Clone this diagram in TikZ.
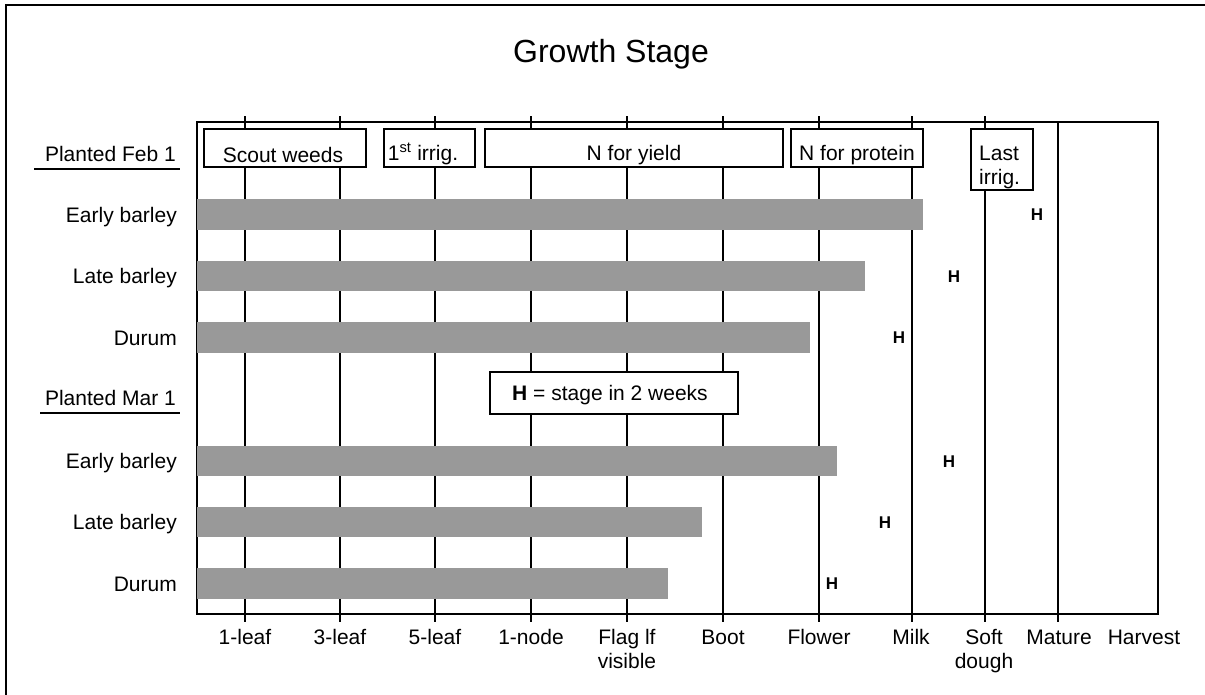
\documentclass[tikz,border=0pt]{standalone}
\usepackage{fontspec}
\setmainfont{Liberation Sans}
\definecolor{barg}{RGB}{153,153,153}
\begin{document}
\begin{tikzpicture}[x=1pt,y=-1pt,
  lbl/.style={font=\fontsize{21}{24}\selectfont, inner sep=0pt},
  rowlbl/.style={lbl, anchor=east, text height=15, text depth=0},
  xlbl/.style={lbl, anchor=base},
  boxtxt/.style={lbl, anchor=base},
  abox/.style={draw, fill=white, line width=1.6pt, inner sep=0pt},
  bar/.style={fill=barg, draw=none},
  hmark/.style={font=\fontsize{17}{20}\selectfont\bfseries, inner sep=0pt},
  gridline/.style={line width=1.6pt},
  frameline/.style={line width=2.2pt},
  underl/.style={line width=1.5pt}]
\useasboundingbox (0,0) rectangle (1205,694);
% outer frame (only top and left visible)
\draw[frameline] (6,700) -- (6,5) -- (1210,5);
% title
\node[font=\fontsize{32}{36}\selectfont, inner sep=0pt, anchor=base] (title) at (611,62) {Growth Stage};
% vertical grid lines
\foreach \x in {245,340,435,531,627,723,819,912,985}
  \draw[gridline] (\x,116) -- (\x,622);
\draw[gridline] (1058,122) -- (1058,622);
% plot frame
\draw[frameline] (197,122) rectangle (1158,614);
% activity boxes
\node[abox, minimum width=162, minimum height=38] (scout) at (285,148) {};
\node[boxtxt] (scoutt) at (283,162) {Scout weeds};
\node[abox, minimum width=91, minimum height=38] (irr1) at (429.5,148) {};
\node[boxtxt] (irr1t) at (423,160) {1\textsuperscript{st} irrig.};
\node[abox, minimum width=298, minimum height=38] (nyield) at (634,148) {};
\node[boxtxt] (nyieldt) at (634,160) {N for yield};
\node[abox, minimum width=132, minimum height=38] (nprot) at (857,148) {};
\node[boxtxt] (nprott) at (857,160) {N for protein};
\node[abox, minimum width=62, minimum height=61] (lastirr) at (1002,159.5) {};
\node[boxtxt, anchor=base west] (last1) at (979,160) {Last};
\node[boxtxt, anchor=base west] (last2) at (979,184) {irrig.};
% legend
\node[abox, minimum width=248, minimum height=42] (legend) at (614,393) {};
\node[boxtxt] (legendt) at (610,400) {\textbf{H} = stage in 2 weeks};
% bars, planted Feb 1
\fill[bar] (197,199) rectangle (923,230);
\fill[bar] (197,261) rectangle (865,291);
\fill[bar] (197,322) rectangle (810,353);
% bars, planted Mar 1
\fill[bar] (197,446) rectangle (837,476);
\fill[bar] (197,507) rectangle (702,537);
\fill[bar] (197,568) rectangle (668,599);
% H marks
\node[hmark] (h1) at (1037,215) {H};
\node[hmark] (h2) at (954,277) {H};
\node[hmark] (h3) at (899,338) {H};
\node[hmark] (h4) at (949,462) {H};
\node[hmark] (h5) at (885,523) {H};
\node[hmark] (h6) at (832,584) {H};
% group headings
\node[boxtxt, anchor=base east] (feb) at (176,161) {Planted Feb 1};
\draw[underl] (34,169) -- (180,169);
\node[boxtxt, anchor=base east] (mar) at (176,405) {Planted Mar 1};
\draw[underl] (40,413) -- (180,413);
% row labels
\node[rowlbl] (r1) at (177,214.5) {Early barley};
\node[rowlbl] (r2) at (177,276) {Late barley};
\node[rowlbl] (r3) at (177,337.5) {Durum};
\node[rowlbl] (r4) at (177,461) {Early barley};
\node[rowlbl] (r5) at (177,522) {Late barley};
\node[rowlbl] (r6) at (177,583.5) {Durum};
% x labels
\node[xlbl] (s1) at (245,644) {1-leaf};
\node[xlbl] (s2) at (340,644) {3-leaf};
\node[xlbl] (s3) at (435,644) {5-leaf};
\node[xlbl] (s4) at (531,644) {1-node};
\node[xlbl] (s5) at (627,644) {Flag lf};
\node[xlbl] (s5b) at (627,668) {visible};
\node[xlbl] (s6) at (723,644) {Boot};
\node[xlbl] (s7) at (819,644) {Flower};
\node[xlbl] (s8) at (911,644) {Milk};
\node[xlbl] (s9) at (984,644) {Soft};
\node[xlbl] (s9b) at (984,668) {dough};
\node[xlbl] (s10) at (1059,644) {Mature};
\node[xlbl] (s11) at (1144,644) {Harvest};
\end{tikzpicture}
\end{document}
